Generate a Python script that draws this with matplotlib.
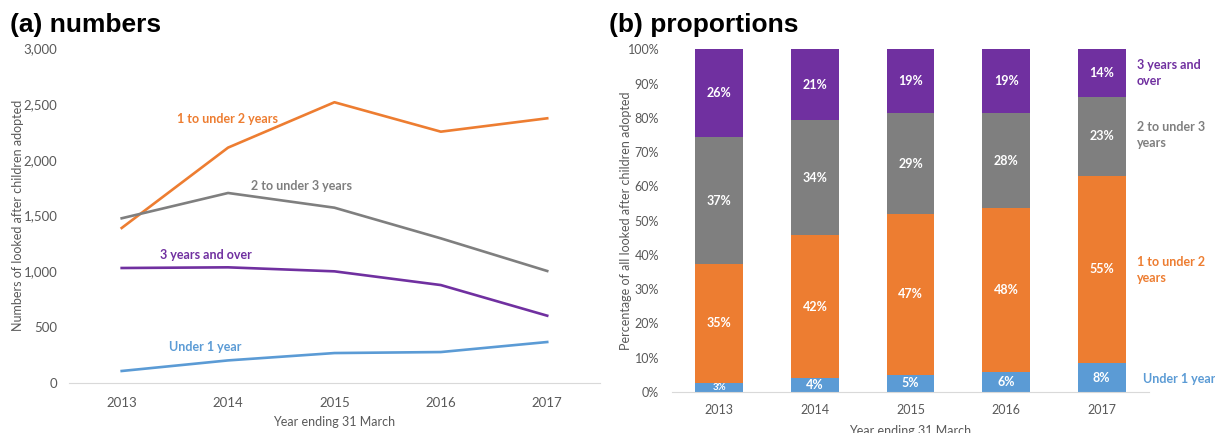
import matplotlib
matplotlib.use("Agg")
import matplotlib.pyplot as plt
import numpy as np

plt.rcParams['font.family'] = ['Lato', 'DejaVu Sans']

# data
years = ['2013', '2014', '2015', '2016', '2017']
under1 = [105, 200, 266, 275, 365]
one_to_2 = [1388, 2109, 2516, 2252, 2372]
two_to_3 = [1475, 1702, 1570, 1295, 1002]
three_plus = [1029, 1035, 999, 876, 601]

pct_under1 = [2.6, 4.0, 5.0, 5.9, 8.4]
pct_1to2 = [34.8, 41.7, 47.0, 47.7, 54.7]
pct_2to3 = [36.9, 33.7, 29.3, 27.7, 23.1]
pct_3plus = [25.7, 20.6, 18.7, 18.7, 13.8]

c_blue = '#5B9BD5'
c_orange = '#ED7D31'
c_gray = '#7F7F7F'
c_purple = '#7030A0'
txt = '#595959'

W, H = 1215, 433
fig = plt.figure(figsize=(W / 100, H / 100), dpi=100)

def box(l, t, r, b):
    return [l / W, (H - b) / H, (r - l) / W, (b - t) / H]

# ---- (a) numbers
ax1 = fig.add_axes(box(68.5, 48.3, 600.4, 382.7))
x = np.arange(len(years))
ax1.plot(x, one_to_2, color=c_orange, lw=1.9)
ax1.plot(x, two_to_3, color=c_gray, lw=1.9)
ax1.plot(x, three_plus, color=c_purple, lw=1.9)
ax1.plot(x, under1, color=c_blue, lw=1.9)
ax1.set_xlim(-0.5, 4.5)
ax1.set_ylim(0, 3000)
ax1.set_yticks(range(0, 3001, 500))
ax1.set_yticklabels([f'{v:,}' for v in range(0, 3001, 500)])
ax1.set_xticks(x)
ax1.set_xticklabels(years)
for s in ['top', 'right', 'left']:
    ax1.spines[s].set_visible(False)
ax1.spines['bottom'].set_color('#D9D9D9')
ax1.tick_params(length=0, labelsize=9.5, colors=txt, pad=10)
ax1.tick_params(axis='y', pad=8)
ax1.set_xlabel('Year ending 31 March', fontsize=9, color=txt, labelpad=5)
ax1.set_ylabel('Numbers of looked after children adopted', fontsize=9, color=txt)
ax1.yaxis.set_label_coords(-0.084, 0.5)

ax1.text(0.99, 2369, '1 to under 2 years', color=c_orange, fontsize=9, fontweight='bold', ha='center', va='center')
ax1.text(1.69, 1767, '2 to under 3 years', color=c_gray, fontsize=9, fontweight='bold', ha='center', va='center')
ax1.text(0.79, 1147, '3 years and over', color=c_purple, fontsize=9, fontweight='bold', ha='center', va='center')
ax1.text(0.79, 321, 'Under 1 year', color=c_blue, fontsize=9, fontweight='bold', ha='center', va='center')

fig.text(10 / W, 1 - 25 / H, '(a) numbers', fontsize=19, fontweight='bold',
         family='Liberation Sans', va='center', ha='left')

# ---- (b) proportions
ax2 = fig.add_axes(box(671.6, 49.3, 1149.4, 392.0))
bottom = np.zeros(len(years))
series = [(pct_under1, c_blue), (pct_1to2, c_orange), (pct_2to3, c_gray), (pct_3plus, c_purple)]
for vals, col in series:
    vals = np.array(vals)
    ax2.bar(x, vals, 0.5, bottom=bottom, color=col)
    for i, v in enumerate(vals):
        fs = 7 if v < 3 else 9
        ax2.text(x[i], bottom[i] + v / 2, f'{round(v)}%', color='white', fontsize=fs,
                 fontweight='bold', ha='center', va='center')
    bottom += vals
ax2.set_xlim(-0.5, 4.5)
ax2.set_ylim(0, 100)
ax2.set_yticks(range(0, 101, 10))
ax2.set_yticklabels([f'{v}%' for v in range(0, 101, 10)])
ax2.set_xticks(x)
ax2.set_xticklabels(years)
for s in ['top', 'right', 'left']:
    ax2.spines[s].set_visible(False)
ax2.spines['bottom'].set_color('#D9D9D9')
ax2.tick_params(length=0, labelsize=9, colors=txt, pad=9)
ax2.tick_params(axis='y', pad=9)
ax2.set_xlabel('Year ending 31 March', fontsize=9, color=txt, labelpad=6)
ax2.set_ylabel('Percentage of all looked after children adopted', fontsize=9, color=txt)
ax2.yaxis.set_label_coords(-0.083, 0.5)

lx = 4.37
ax2.text(lx, 93, '3 years and\nover', color=c_purple, fontsize=9, fontweight='bold', ha='left', va='center', clip_on=False, linespacing=1.4)
ax2.text(lx, 75, '2 to under 3\nyears', color=c_gray, fontsize=9, fontweight='bold', ha='left', va='center', clip_on=False, linespacing=1.4)
ax2.text(lx, 35.5, '1 to under 2\nyears', color=c_orange, fontsize=9, fontweight='bold', ha='left', va='center', clip_on=False, linespacing=1.4)
ax2.text(lx + 0.06, 3.8, 'Under 1 year', color=c_blue, fontsize=9, fontweight='bold', ha='left', va='center', clip_on=False)

fig.text(609 / W, 1 - 25 / H, '(b) proportions', fontsize=19, fontweight='bold',
         family='Liberation Sans', va='center', ha='left')

fig.savefig('out.png', dpi=100)
